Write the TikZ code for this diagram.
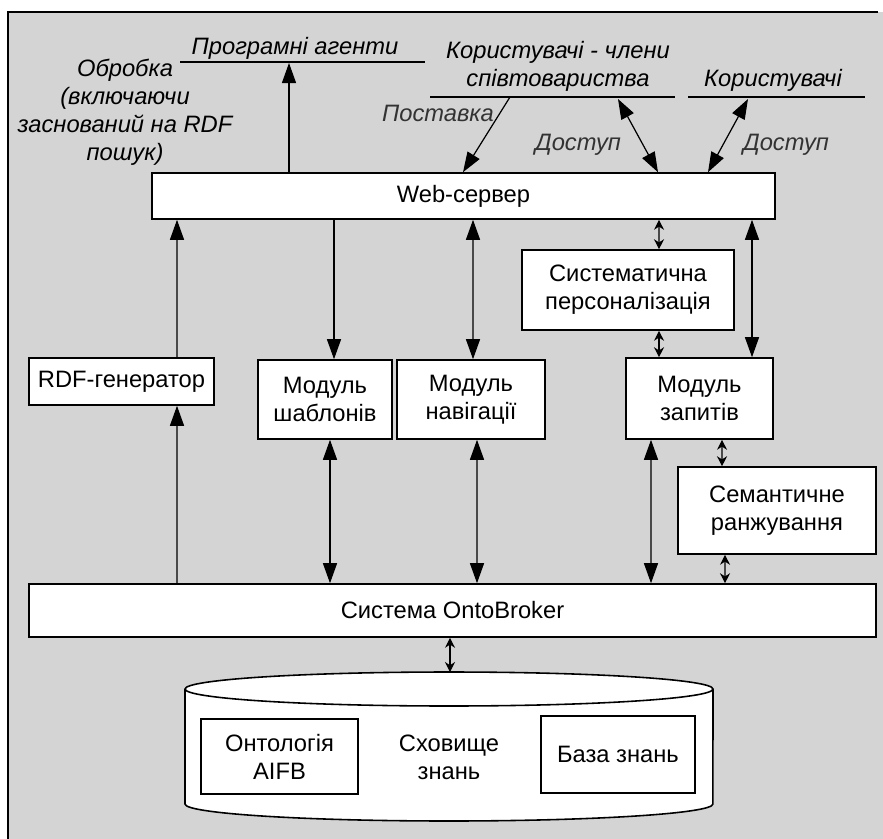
\documentclass[tikz,border=0pt]{standalone}
\usepackage{fontspec}
\setmainfont{Liberation Sans}
\usetikzlibrary{positioning,calc,arrows.meta}

\begin{document}
\begin{tikzpicture}[x=0.02cm,y=-0.02cm,
		box/.style={draw=black,line width=0.9pt,fill=white,align=center,inner sep=1pt,font=\fontsize{13.5}{16}\selectfont},
		lbl/.style={font=\fontsize{13.5}{16}\selectfont\itshape,align=center,inner sep=0pt},
		arr/.style={line width=0.7pt,-{Triangle[length=4mm,width=2.8mm]}},
		darr/.style={line width=0.7pt,{Triangle[length=4mm,width=2.8mm]}-{Triangle[length=4mm,width=2.8mm]}},
		sarr/.style={line width=0.6pt,{Stealth[length=2mm,width=2mm]}-{Stealth[length=2mm,width=2mm]}}]
		\useasboundingbox (0,0) rectangle (883,839);
		% background
		\fill[black!17] (8,12) rectangle (883,839);
		\draw[line width=0.9pt] (8,839) -- (8,12) -- (878,12);
		
		% top labels
		\node[lbl] (agents) at (295,48) {Програмні агенти};
		\node[lbl] (proc) at (125,112) {Обробка\\(включаючи\\заснований на RDF\\пошук)};
		\node[lbl] (members) at (558,66) {Користувачі - члени\\співтовариства};
		\node[lbl] (users) at (773,80) {Користувачі};
		\node[lbl,text=black!80] (supply) at (438,113) {Поставка};
		\node[lbl,text=black!80] (acc1) at (578,145) {Доступ};
		\node[lbl,text=black!80] (acc2) at (786,145) {Доступ};
		\draw[line width=0.6pt] (180,62) -- (425,62);
		\draw[line width=0.6pt] (430,97) -- (675,97);
		\draw[line width=0.6pt] (688,97) -- (865,97);
		\coordinate (agl) at (289,63);
		\coordinate (mem1) at (510,97);
		\coordinate (mem2) at (618,99);
		\coordinate (usr) at (748,99);
		
		% boxes
		\node[box,minimum width=12.46cm,minimum height=0.92cm] (web) at (463.5,196) {Web-сервер};
		\node[box,minimum width=3.7cm,minimum height=0.94cm] (rdf) at (121.5,381.5) {RDF-генератор};
		\node[box,minimum width=2.68cm,minimum height=1.58cm] (tmpl) at (325,399.5) {Модуль\\шаблонів};
		\node[box,minimum width=2.96cm,minimum height=1.58cm] (nav) at (471,399.5) {Модуль\\навігації};
		\node[box,minimum width=4.24cm,minimum height=1.6cm] (pers) at (628,290) {Систематична\\персоналізація};
		\node[box,minimum width=2.94cm,minimum height=1.62cm] (query) at (699.5,398.5) {Модуль\\запитів};
		\node[box,minimum width=3.96cm,minimum height=1.74cm] (rank) at (777,510.5) {Семантичне\\ранжування};
		\node[box,minimum width=16.94cm,minimum height=1.06cm] (onto) at (452.5,610.5) {Система OntoBroker};
		
		% knowledge store
		\fill[white] (185,689) -- (185,804) arc[start angle=180,end angle=360,x radius=5.28cm,y radius=0.34cm]
			-- (713,689) arc[start angle=0,end angle=180,x radius=5.28cm,y radius=0.34cm] -- cycle;
		\draw[line width=0.9pt] (185,689) -- (185,804) arc[start angle=180,end angle=360,x radius=5.28cm,y radius=0.34cm] -- (713,689);
		\draw[line width=0.9pt] (449,689) ellipse[x radius=5.28cm,y radius=0.34cm];
		\coordinate (storetop) at (450,672);
		\node[box,draw=none,fill=none] (store) at (449,757) {Сховище\\знань};
		\node[box,minimum width=3.14cm,minimum height=1.5cm] (ontol) at (279.5,756.5) {Онтологія\\AIFB};
		\node[box,minimum width=3.08cm,minimum height=1.54cm] (kb) at (618,754.5) {База знань};
		
		% connectors to the top
		\draw[arr] ($(web.north)+(-174.5,0)$) -- (agl);
		\draw[arr] (mem1) -- ($(web.north)+(-0.5,0)$);
		\draw[darr] (mem2) -- ($(web.north)+(194.5,0)$);
		\draw[darr] (usr) -- ($(web.north)+(244.5,0)$);
		
		% connectors below the web server
		\draw[arr] ($(rdf.north)+(55.5,0)$) -- ($(web.south)+(-286.5,0)$);
		\draw[arr] ($(onto.north)+(-275.5,0)$) -- ($(rdf.south)+(55.5,0)$);
		\draw[arr] ($(web.south)+(-129.5,0)$) -- ($(tmpl.north)+(9,0)$);
		\draw[darr] ($(web.south)+(9.5,0)$) -- ($(nav.north)+(2,0)$);
		\draw[sarr] ($(web.south)+(195.5,0)$) -- ($(pers.north)+(31,0)$);
		\draw[sarr] ($(pers.south)+(31,0)$) -- ($(query.north)+(-40.5,0)$);
		\draw[darr] ($(web.south)+(288.5,0)$) -- ($(query.north)+(52.5,0)$);
		\draw[darr] ($(tmpl.south)+(5,0)$) -- ($(onto.north)+(-122.5,0)$);
		\draw[darr] ($(nav.south)+(6,0)$) -- ($(onto.north)+(24.5,0)$);
		\draw[darr] ($(query.south)+(-48.5,0)$) -- ($(onto.north)+(198.5,0)$);
		\draw[sarr] ($(query.south)+(22.5,0)$) -- ($(rank.north)+(-55,0)$);
		\draw[sarr] ($(rank.south)+(-52,0)$) -- ($(onto.north)+(272.5,0)$);
		\draw[sarr] ($(onto.south)+(-2.5,0)$) -- (storetop);
	\end{tikzpicture}
\end{document}
